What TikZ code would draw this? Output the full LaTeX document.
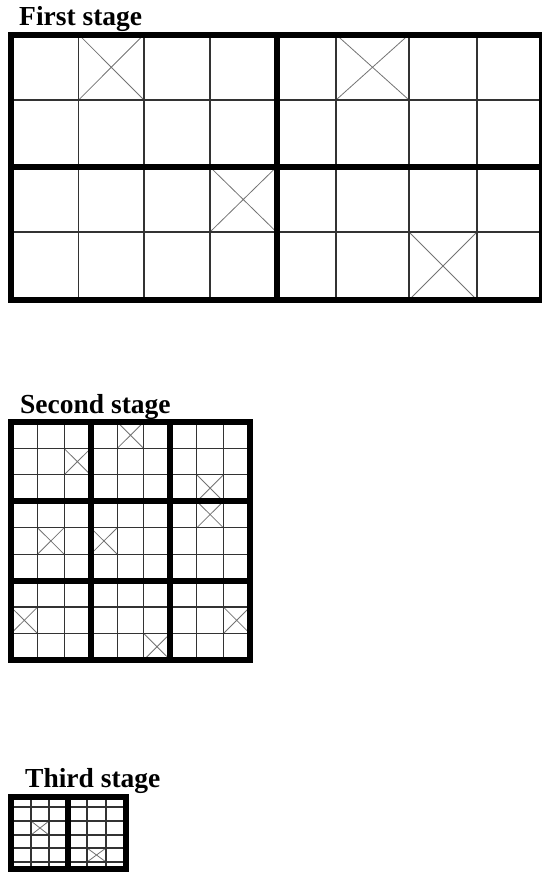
\documentclass[tikz,border=0pt]{standalone}
\usepackage{fontspec}
\setmainfont{Liberation Serif}

\begin{document}
\begin{tikzpicture}[x=1pt, y=-1pt,
        frame/.style={line width=6pt, line cap=rect},
        grid/.style={line width=1.2pt, draw=black!80},
        cross/.style={line width=0.8pt, draw=black!55},
        title/.style={anchor=base west, inner sep=0pt,
                      font=\fontsize{27.5}{30}\selectfont\bfseries},
    ]
    \useasboundingbox (0,0) rectangle (541,878);

    % first stage
    \node[title] (first) at (19,25) {First stage};
    \foreach \xa/\xb/\ya/\yb in {78.6/144/34.5/100, 336/409/34.5/100,
                                 210/276.5/167/232, 409/477/232/300}
        \draw[cross] (\xa,\ya) -- (\xb,\yb) (\xa,\yb) -- (\xb,\ya);
    \foreach \x in {78.6,144,210,336,409,477}
        \draw[grid] (\x,34.5) -- (\x,300);
    \foreach \y in {100,232}
        \draw[grid] (11.3,\y) -- (541.5,\y);
    \draw[frame] (11.3,34.5) rectangle (541.5,300)
                 (276.5,34.5) -- (276.5,300) (11.3,167) -- (541.5,167);

    % second stage
    \node[title] (second) at (20,413) {Second stage};
    \foreach \c/\r in {2/1, 4/0, 7/2, 7/3, 1/4, 3/4, 0/7, 5/8, 8/7}
        \draw[cross] ({11+26.55*\c},{422+26.44*\r}) -- ++(26.55,26.44)
                     ++(-26.55,0) -- ++(26.55,-26.44);
    \foreach \i in {1,2,4,5,7,8} {
        \draw[grid] ({11+26.55*\i},422) -- ++(0,238);
        \draw[grid] (11,{422+26.44*\i}) -- ++(239,0);
    }
    \draw[frame] (11,422) rectangle (250,660);
    \foreach \i in {3,6} {
        \draw[frame] ({11+26.55*\i},422) -- ++(0,238);
        \draw[frame] (11,{422+26.44*\i}) -- ++(239,0);
    }

    % third stage
    \node[title] (third) at (25,787) {Third stage};
    \foreach \xa/\xb/\ya/\yb in {31/49/821/835, 87/106/848/862}
        \draw[cross] (\xa,\ya) -- (\xb,\yb) (\xa,\yb) -- (\xb,\ya);
    \foreach \x in {31,49,87,106}
        \draw[grid] (\x,796.5) -- (\x,869);
    \foreach \y in {807,821,835,848,862}
        \draw[grid] (11,\y) -- (125.5,\y);
    \draw[frame] (11,796.5) rectangle (125.5,869) (68,796.5) -- (68,869);
\end{tikzpicture}
\end{document}
